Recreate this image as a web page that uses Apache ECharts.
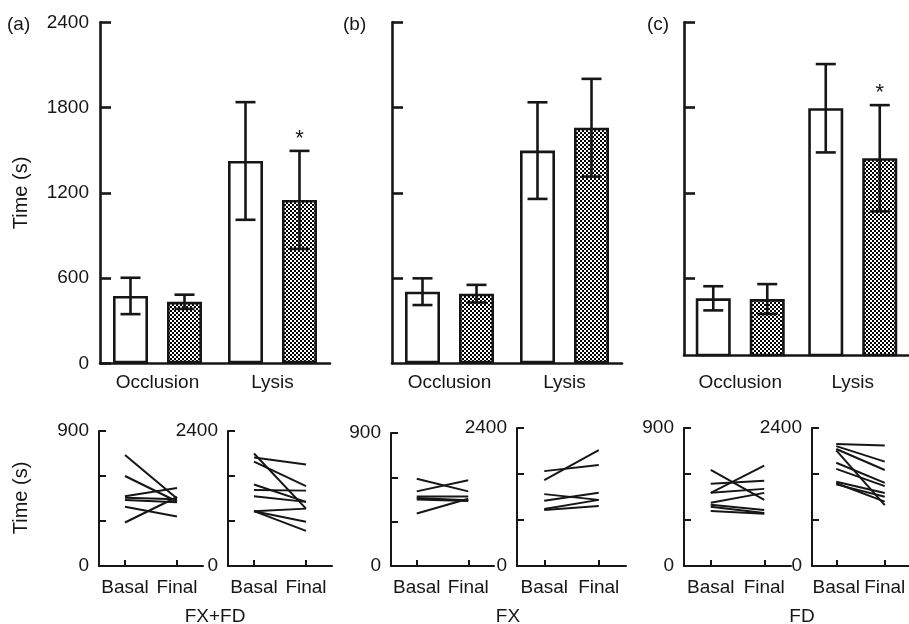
<!DOCTYPE html>
<html><head><meta charset="utf-8">
<script src="https://cdn.jsdelivr.net/npm/echarts@6/dist/echarts.min.js"></script>
<style>html,body{margin:0;padding:0;background:#fff}#c{width:909px;height:624px}</style>
</head><body><div id="c"></div>
<script>
// ---------- DATA ----------
const categories = ['Occlusion', 'Lysis'];
const panelLabels = ['(a)', '(b)', '(c)'];
const groupNames = ['FX+FD', 'FX', 'FD'];
const timeCats = ['Basal', 'Final'];
const topTicks = [600, 1200, 1800, 2400];
const topTickLabels = [0, 600, 1200, 1800, 2400];
const yTitle = 'Time (s)';

// (a) FX+FD
const a_basalMean = [474, 1424];
const a_basalErr  = [128, 414];
const a_finalMean = [433, 1150];
const a_finalErr  = [50, 345];
const a_finalSig  = [0, 1];
// (b) FX
const b_basalMean = [504, 1497];
const b_basalErr  = [94, 340];
const b_finalMean = [490, 1658];
const b_finalErr  = [62, 344];
const b_finalSig  = [0, 0];
// (c) FD
const c_basalMean = [457, 1795];
const c_basalErr  = [85, 311];
const c_finalMean = [452, 1443];
const c_finalErr  = [105, 374];
const c_finalSig  = [0, 1];

// individual subjects (Basal -> Final)
const a_occBasal = [740, 600, 465, 455, 440, 395, 290];
const a_occFinal = [450, 430, 520, 445, 425, 330, 460];
const a_lysBasal = [2000, 1930, 1855, 1450, 1350, 1240, 975, 975, 975];
const a_lysFinal = [1020, 1805, 1420, 1140, 1340, 1140, 1020, 785, 625];
const b_occBasal = [590, 505, 470, 460, 450, 355];
const b_occFinal = [505, 580, 470, 445, 440, 455];
const b_lysBasal = [1650, 1495, 1250, 1135, 990, 975];
const b_lysFinal = [1755, 2015, 1150, 1275, 1150, 1045];
const c_occBasal = [627, 536, 477, 477, 412, 399, 386, 359];
const c_occFinal = [431, 556, 654, 503, 477, 366, 346, 340];
const c_lysBasal = [2120, 2085, 2035, 2010, 1795, 1690, 1465, 1420, 1440];
const c_lysFinal = [2095, 1815, 1670, 1060, 1445, 1390, 1270, 1205, 1120];

// ---------- BUILD ----------
const FONT = "'Liberation Sans', Arial, sans-serif";
const FS = 19;
const INK = '#161616';
const pat = document.createElement('canvas');
pat.width = 4; pat.height = 4;
const pg = pat.getContext('2d');
pg.fillStyle = '#fff'; pg.fillRect(0, 0, 4, 4);
pg.fillStyle = '#000'; pg.fillRect(0, 0, 2, 2); pg.fillRect(2, 2, 2, 2);

const topPanels = [
  {bm: a_basalMean, be: a_basalErr, fm: a_finalMean, fe: a_finalErr, sig: a_finalSig},
  {bm: b_basalMean, be: b_basalErr, fm: b_finalMean, fe: b_finalErr, sig: b_finalSig},
  {bm: c_basalMean, be: c_basalErr, fm: c_finalMean, fe: c_finalErr, sig: c_finalSig}
];
const topLayout = [
  {left: 100, top: 22.3, width: 230, height: 341, yMin: 0, lblMargin: 10},
  {left: 392, top: 22.3, width: 230, height: 341, yMin: 0, lblMargin: 10},
  {left: 684, top: 22.3, width: 232, height: 332.7, yMin: 58, lblMargin: 18}
];
const subPairs = [
  [a_occBasal, a_occFinal, 900], [a_lysBasal, a_lysFinal, 2400],
  [b_occBasal, b_occFinal, 900], [b_lysBasal, b_lysFinal, 2400],
  [c_occBasal, c_occFinal, 900], [c_lysBasal, c_lysFinal, 2400]
];
const subLayout = [
  {left: 99, top: 431, width: 104, height: 135},
  {left: 228, top: 431, width: 104, height: 135},
  {left: 391, top: 433, width: 103, height: 133},
  {left: 517, top: 428, width: 109, height: 138},
  {left: 684, top: 428, width: 107, height: 138},
  {left: 812, top: 428, width: 108, height: 138}
];

const BAR_W = 35, GAP = 19;
const grid = [], xAxis = [], yAxis = [], series = [];

function errRender(offset) {
  return function (params, api) {
    const i = api.value(0), m = api.value(1), e = api.value(2), s = api.value(3);
    const t = api.coord([i, m + e]), b = api.coord([i, m - e]);
    const x = t[0] + offset, hw = 10;
    const st = {stroke: INK, lineWidth: 2.6};
    const ch = [
      {type: 'line', shape: {x1: x, y1: t[1], x2: x, y2: b[1]}, style: st},
      {type: 'line', shape: {x1: x - hw, y1: t[1], x2: x + hw, y2: t[1]}, style: st},
      {type: 'line', shape: {x1: x - hw, y1: b[1], x2: x + hw, y2: b[1]}, style: st}
    ];
    if (s) ch.push({type: 'text', x: x, y: t[1] - 1,
      style: {text: '*', fontSize: 22, fontFamily: FONT, align: 'center', verticalAlign: 'bottom', fill: INK}});
    return {type: 'group', children: ch};
  };
}

topPanels.forEach((p, k) => {
  const L = topLayout[k];
  grid.push({left: L.left, top: L.top, width: L.width, height: L.height});
  xAxis.push({type: 'category', gridIndex: k, data: categories,
    axisLine: {lineStyle: {color: INK, width: 2.6}}, axisTick: {show: false},
    axisLabel: {color: INK, fontSize: FS, fontFamily: FONT, margin: L.lblMargin}});
  yAxis.push({type: 'value', gridIndex: k, min: L.yMin, max: 2400,
    axisLine: {show: true, lineStyle: {color: INK, width: 2.6}},
    axisTick: {show: true, inside: true, length: 11, lineStyle: {width: 2.6, color: INK},
      customValues: k === 0 ? topTickLabels : topTicks},
    axisLabel: {show: k === 0, color: INK, fontSize: FS, fontFamily: FONT, margin: 11,
      customValues: topTickLabels, formatter: v => String(v)},
    splitLine: {show: false}});
  series.push({type: 'bar', xAxisIndex: k, yAxisIndex: k, data: p.bm, barWidth: BAR_W,
    barGap: (GAP / BAR_W * 100) + '%',
    itemStyle: {color: '#fff', borderColor: INK, borderWidth: 2.6}, silent: true, z: 2});
  series.push({type: 'bar', xAxisIndex: k, yAxisIndex: k, data: p.fm, barWidth: BAR_W,
    barGap: (GAP / BAR_W * 100) + '%',
    itemStyle: {color: {image: pat, repeat: 'repeat'}, borderColor: INK, borderWidth: 2.6}, silent: true, z: 2});
  const off = (BAR_W + GAP) / 2;
  series.push({type: 'custom', xAxisIndex: k, yAxisIndex: k, z: 5, silent: true,
    data: p.bm.map((m, i) => [i, m, p.be[i], 0]), encode: {x: 0, y: 1}, renderItem: errRender(-off)});
  series.push({type: 'custom', xAxisIndex: k, yAxisIndex: k, z: 5, silent: true,
    data: p.fm.map((m, i) => [i, m, p.fe[i], p.sig[i]]), encode: {x: 0, y: 1}, renderItem: errRender(off)});
});

subPairs.forEach((sp, j) => {
  const k = 3 + j, L = subLayout[j], max = sp[2];
  grid.push({left: L.left, top: L.top, width: L.width, height: L.height});
  xAxis.push({type: 'category', gridIndex: k, data: timeCats, boundaryGap: true,
    axisLine: {lineStyle: {color: INK, width: 2}},
    axisTick: {show: true, inside: true, length: 6, alignWithLabel: true, interval: 0, lineStyle: {width: 2, color: INK}},
    axisLabel: {color: INK, fontSize: FS, fontFamily: FONT, margin: 12, interval: 0}});
  yAxis.push({type: 'value', gridIndex: k, min: 0, max: max, interval: max / 3,
    axisLine: {show: true, lineStyle: {color: INK, width: 2}},
    axisTick: {show: true, inside: true, length: 7, lineStyle: {width: 2, color: INK}},
    axisLabel: {color: INK, fontSize: FS, fontFamily: FONT, margin: 10,
      formatter: v => (v === 0 || v === max) ? String(v) : ''},
    splitLine: {show: false}});
  sp[0].forEach((b, i) => {
    series.push({type: 'line', xAxisIndex: k, yAxisIndex: k, data: [b, sp[1][i]],
      symbol: 'none', silent: true, lineStyle: {color: INK, width: 2}});
  });
});

const graphic = [];
const labelX = [7, 343, 647];
panelLabels.forEach((t, i) => graphic.push({type: 'text', x: labelX[i], y: 25,
  style: {text: t, fontSize: FS, fontFamily: FONT, fill: INK, align: 'left', verticalAlign: 'middle'}}));
const gX = [215, 508, 802];
groupNames.forEach((t, i) => graphic.push({type: 'text', x: gX[i], y: 617,
  style: {text: t, fontSize: FS, fontFamily: FONT, fill: INK, align: 'center', verticalAlign: 'middle'}}));
[193, 498].forEach(y => graphic.push({type: 'text', x: 21, y: y, rotation: Math.PI / 2,
  style: {text: yTitle, fontSize: 20, fontFamily: FONT, fill: INK, align: 'center', verticalAlign: 'middle'}}));

const chart = echarts.init(document.getElementById('c'), null, {renderer: 'canvas'});
chart.setOption({animation: false, backgroundColor: '#fff', grid, xAxis, yAxis, series, graphic});
</script>
</body></html>
